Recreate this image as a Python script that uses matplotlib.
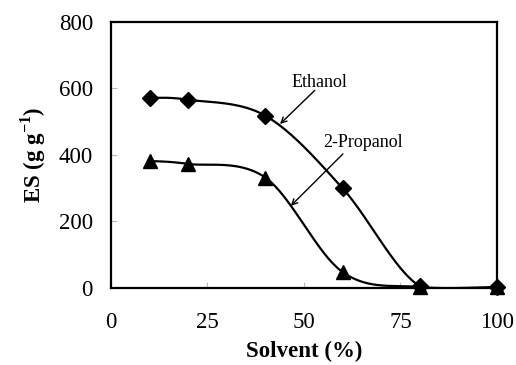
import numpy as np
import matplotlib
matplotlib.use('Agg')
import matplotlib.pyplot as plt

solvent = [10, 20, 40, 60, 80, 100]
ethanol = [572, 566, 518, 300, 5, 2]
propanol = [382, 373, 332, 48, 3, 3]

xticks = [0, 25, 50, 75, 100]
yticks = [0, 200, 400, 600, 800]


def _smooth(x, y, n=40):
    # Excel-like smoothed line: Catmull-Rom as cubic Bezier segments
    p = np.column_stack([x, y]).astype(float)
    p = np.vstack([p[0], p, p[-1]])
    out = []
    t = np.linspace(0, 1, n)[:, None]
    for i in range(1, len(p) - 2):
        p0, p1, p2, p3 = p[i - 1], p[i], p[i + 1], p[i + 2]
        c1 = p1 + (p2 - p0) / 6.0
        c2 = p2 - (p3 - p1) / 6.0
        seg = ((1 - t) ** 3) * p1 + 3 * ((1 - t) ** 2) * t * c1 + 3 * (1 - t) * t ** 2 * c2 + t ** 3 * p2
        out.append(seg)
    seg = np.vstack(out)
    return seg[:, 0], seg[:, 1]


plt.rcParams['font.family'] = ['Liberation Serif', 'DejaVu Serif']
plt.rcParams['mathtext.fontset'] = 'custom'
plt.rcParams['mathtext.rm'] = 'Liberation Serif'
plt.rcParams['mathtext.bf'] = 'Liberation Serif:bold'
fig = plt.figure(figsize=(5.16, 3.65), dpi=100)
ax = fig.add_axes([0.215, 0.211, 0.748, 0.729])

for yv, mk, ms in ((ethanol, 'D', 8), (propanol, '^', 9.5)):
    sx, sy = _smooth(solvent, yv)
    ax.plot(sx, sy, color='black', lw=1.6, zorder=2)
    ax.plot(solvent, yv, linestyle='none', marker=mk, ms=ms, color='black', zorder=3, clip_on=False)

ax.set_xlim(0, 100)
ax.set_ylim(0, 800)
ax.set_xticks(xticks)
ax.set_yticks(yticks)
ax.tick_params(axis='x', direction='in', length=4, color='#bbbbbb', pad=17, labelsize=16.5)
ax.tick_params(axis='y', direction='in', length=4, color='#bbbbbb', pad=13, labelsize=16.5)
for s in ax.spines.values():
    s.set_linewidth(1.6)

ax.set_xlabel('Solvent (%)', fontsize=16.5, fontweight='bold', labelpad=6)
ax.set_ylabel(r'ES (g g$^{\mathbf{-1}}$)', fontsize=16.5, fontweight='bold', labelpad=8)

ax.text(53.9, 617, 'Ethanol', fontsize=13, ha='center', va='center')
ax.annotate('', xy=(43.8, 493), xytext=(52.8, 594),
            arrowprops=dict(arrowstyle='->', color='black', lw=1.0, shrinkA=0, shrinkB=0))
ax.text(65.3, 436, '2-Propanol', fontsize=13, ha='center', va='center')
ax.annotate('', xy=(46.6, 247), xytext=(60.1, 403),
            arrowprops=dict(arrowstyle='->', color='black', lw=1.0, shrinkA=0, shrinkB=0))

fig.savefig('out.png', dpi=100)
